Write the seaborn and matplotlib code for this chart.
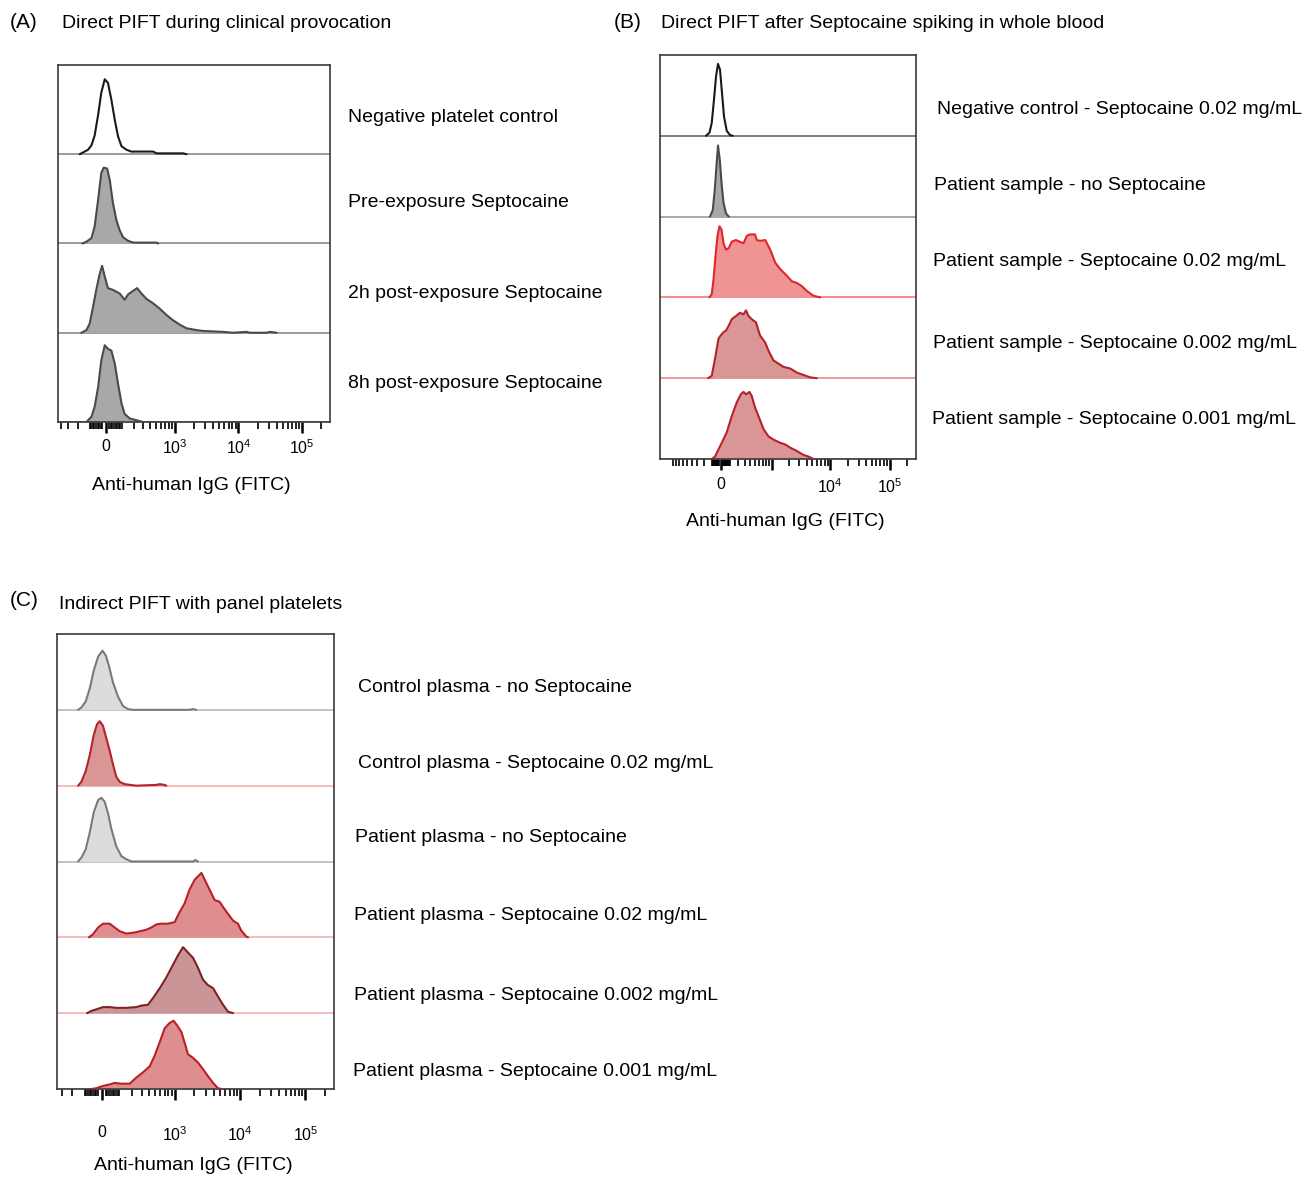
import numpy as np
import pandas as pd
import matplotlib
matplotlib.use("Agg")
import matplotlib.pyplot as plt
import seaborn as sns

sns.set_style("white")
plt.rcParams["font.family"] = ["Liberation Sans", "DejaVu Sans"]
plt.rcParams["text.color"] = "black"
plt.rcParams["xtick.color"] = "black"
plt.rcParams["mathtext.fontset"] = "custom"
plt.rcParams["mathtext.rm"] = "Liberation Sans"
plt.rcParams["mathtext.it"] = "Liberation Sans"

# ---- data (x in display channels 0-1024, y = fraction of row height) ----
# Panel A
a_labels = ["Negative platelet control", "Pre-exposure Septocaine",
            "2h post-exposure Septocaine", "8h post-exposure Septocaine"]
a1_x = [82, 94, 113, 126, 138, 151, 163, 176, 188, 201, 214, 226, 239, 258, 276, 358, 371, 471, 484]
a1_y = [0, 0.02, 0.05, 0.10, 0.21, 0.44, 0.69, 0.84, 0.80, 0.61, 0.38, 0.20, 0.09, 0.05, 0.03, 0.03, 0.01, 0.01, 0]
a2_x = [92, 107, 126, 138, 151, 163, 172, 185, 195, 207, 220, 232, 245, 264, 283, 371, 377]
a2_y = [0, 0.02, 0.06, 0.19, 0.49, 0.79, 0.85, 0.84, 0.71, 0.45, 0.26, 0.15, 0.07, 0.03, 0.01, 0.01, 0]
a3_x = [88, 107, 119, 132, 144, 157, 166, 176, 188, 207, 232, 251, 264, 283, 298, 314, 333, 358, 383,
        408, 433, 459, 484, 521, 547, 622, 660, 710, 722, 785, 798, 823]
a3_y = [0, 0.03, 0.10, 0.29, 0.48, 0.66, 0.75, 0.63, 0.50, 0.48, 0.44, 0.37, 0.43, 0.47, 0.50, 0.44, 0.38, 0.33, 0.27,
        0.20, 0.14, 0.09, 0.05, 0.03, 0.02, 0.01, 0, 0.01, 0, 0, 0.01, 0]
a4_x = [107, 126, 138, 151, 163, 176, 188, 201, 214, 226, 239, 251, 270, 295, 320]
a4_y = [0, 0.06, 0.17, 0.39, 0.69, 0.86, 0.82, 0.80, 0.65, 0.43, 0.21, 0.09, 0.04, 0.02, 0]
a_ticklabels = ["0", r"$10^{3}$", r"$10^{4}$", r"$10^{5}$"]

# Panel B
b_labels = ["Negative control - Septocaine 0.02 mg/mL", "Patient sample - no Septocaine",
            "Patient sample - Septocaine 0.02 mg/mL", "Patient sample - Septocaine 0.002 mg/mL",
            "Patient sample - Septocaine 0.001 mg/mL"]
b1_x = [184, 198, 207, 216, 224, 232, 240, 248, 256, 267, 280, 291]
b1_y = [0, 0.04, 0.16, 0.45, 0.73, 0.89, 0.82, 0.53, 0.24, 0.06, 0.01, 0]
b2_x = [200, 211, 219, 226, 232, 239, 246, 254, 264, 275]
b2_y = [0, 0.08, 0.33, 0.63, 0.88, 0.71, 0.42, 0.17, 0.04, 0]
b3_x = [198, 207, 214, 222, 230, 238, 246, 254, 264, 275, 287, 304, 318, 334, 347, 360, 380, 387, 400,
        421, 441, 461, 481, 507, 527, 547, 567, 587, 614, 641]
b3_y = [0, 0.04, 0.22, 0.51, 0.76, 0.88, 0.84, 0.67, 0.59, 0.61, 0.69, 0.71, 0.69, 0.67, 0.76, 0.78, 0.78, 0.71, 0.70,
        0.71, 0.59, 0.43, 0.35, 0.27, 0.20, 0.18, 0.14, 0.08, 0.02, 0]
b4_x = [193, 207, 220, 234, 243, 254, 264, 275, 287, 304, 320, 334, 344, 354, 367, 384, 400, 421, 434,
        454, 474, 494, 521, 547, 574, 601, 627]
b4_y = [0, 0.03, 0.24, 0.49, 0.53, 0.57, 0.59, 0.65, 0.73, 0.77, 0.81, 0.79, 0.84, 0.77, 0.73, 0.69, 0.53, 0.44, 0.34,
        0.22, 0.18, 0.14, 0.12, 0.07, 0.04, 0.01, 0]
b5_x = [207, 220, 234, 247, 267, 287, 307, 323, 334, 344, 358, 367, 380, 394, 414, 434, 454, 481, 501,
        521, 547, 574, 594, 614]
b5_y = [0, 0.03, 0.12, 0.20, 0.33, 0.53, 0.70, 0.80, 0.83, 0.80, 0.83, 0.78, 0.64, 0.53, 0.37, 0.28, 0.24, 0.20, 0.18,
        0.14, 0.10, 0.05, 0.03, 0]
b_ticklabels = ["0", "", r"$10^{4}$", r"$10^{5}$"]

# Panel C
c_labels = ["Control plasma - no Septocaine", "Control plasma - Septocaine 0.02 mg/mL",
            "Patient plasma - no Septocaine", "Patient plasma - Septocaine 0.02 mg/mL",
            "Patient plasma - Septocaine 0.002 mg/mL", "Patient plasma - Septocaine 0.001 mg/mL"]
c1_x = [78, 90, 106, 121, 136, 152, 168, 180, 192, 207, 226, 244, 262, 281, 490, 503, 515]
c1_y = [0, 0.03, 0.11, 0.28, 0.52, 0.70, 0.78, 0.72, 0.58, 0.36, 0.17, 0.05, 0.01, 0, 0, 0.01, 0]
c2_x = [78, 90, 106, 121, 136, 148, 158, 170, 182, 195, 207, 219, 232, 250, 293, 367, 380, 398, 404]
c2_y = [0, 0.05, 0.19, 0.40, 0.67, 0.81, 0.85, 0.79, 0.63, 0.46, 0.28, 0.12, 0.05, 0.02, 0, 0.01, 0.02, 0.01, 0]
c3_x = [78, 90, 106, 121, 136, 152, 164, 176, 189, 201, 219, 238, 256, 275, 505, 511, 521]
c3_y = [0, 0.05, 0.16, 0.38, 0.65, 0.81, 0.84, 0.79, 0.63, 0.43, 0.20, 0.07, 0.03, 0, 0, 0.02, 0]
c4_x = [118, 133, 152, 170, 195, 213, 232, 256, 281, 306, 330, 349, 367, 386, 410, 435, 453, 472, 490,
        509, 534, 546, 564, 583, 601, 614, 632, 651, 669, 681, 700, 706]
c4_y = [0, 0.04, 0.13, 0.18, 0.18, 0.13, 0.08, 0.05, 0.06, 0.08, 0.10, 0.13, 0.17, 0.18, 0.18, 0.20, 0.33, 0.45, 0.63,
        0.76, 0.85, 0.76, 0.63, 0.49, 0.47, 0.40, 0.31, 0.22, 0.18, 0.09, 0.01, 0]
c5_x = [111, 127, 145, 170, 195, 219, 256, 293, 312, 336, 355, 380, 404, 429, 447, 466, 484, 503, 521,
        540, 558, 577, 595, 614, 632, 651]
c5_y = [0, 0.03, 0.05, 0.08, 0.08, 0.07, 0.07, 0.08, 0.10, 0.11, 0.20, 0.33, 0.47, 0.64, 0.76, 0.87, 0.80, 0.73, 0.60,
        0.44, 0.37, 0.33, 0.22, 0.11, 0.02, 0]
c6_x = [127, 145, 170, 195, 213, 238, 269, 293, 318, 343, 361, 380, 398, 416, 431, 444, 460, 472, 484,
        503, 521, 540, 558, 577, 595, 608]
c6_y = [0, 0.01, 0.04, 0.06, 0.08, 0.07, 0.07, 0.15, 0.22, 0.30, 0.44, 0.62, 0.80, 0.87, 0.90, 0.84, 0.75, 0.61, 0.46,
        0.41, 0.35, 0.26, 0.17, 0.08, 0.01, 0]
c_ticklabels = ["0", r"$10^{3}$", r"$10^{4}$", r"$10^{5}$"]

# ---- styles ----
GRAY_FILL, GRAY_LINE = "#a8a8a8", "#4a4a4a"
LIGHT_FILL, LIGHT_LINE = "#dcdcdc", "#7a7a7a"
RED_FILL, RED_LINE = "#ef9393", "#e0262b"
ROSE_FILL, ROSE_LINE = "#da9595", "#b4222a"
MAUVE_FILL, MAUVE_LINE = "#c99597", "#7e2227"
PINK_FILL, PINK_LINE = "#df8e90", "#b81f26"

panel_a = [(a1_x, a1_y, None, "#1a1a1a", "#8a8a8a"),
           (a2_x, a2_y, GRAY_FILL, GRAY_LINE, "#8a8a8a"),
           (a3_x, a3_y, GRAY_FILL, GRAY_LINE, "#8a8a8a"),
           (a4_x, a4_y, GRAY_FILL, GRAY_LINE, "#8a8a8a")]
panel_b = [(b1_x, b1_y, None, "#1a1a1a", "#6a6a6a"),
           (b2_x, b2_y, GRAY_FILL, GRAY_LINE, "#9a9a9a"),
           (b3_x, b3_y, RED_FILL, RED_LINE, "#f07a7a"),
           (b4_x, b4_y, ROSE_FILL, ROSE_LINE, "#ea8a8a"),
           (b5_x, b5_y, ROSE_FILL, ROSE_LINE, "#ea8a8a")]
panel_c = [(c1_x, c1_y, LIGHT_FILL, LIGHT_LINE, "#b8b8b8"),
           (c2_x, c2_y, ROSE_FILL, ROSE_LINE, "#f2b0b0"),
           (c3_x, c3_y, LIGHT_FILL, LIGHT_LINE, "#b8b8b8"),
           (c4_x, c4_y, PINK_FILL, PINK_LINE, "#f2b0b0"),
           (c5_x, c5_y, MAUVE_FILL, MAUVE_LINE, "#f2b0b0"),
           (c6_x, c6_y, PINK_FILL, PINK_LINE, "#f2b0b0")]


def to_ch(v, zero, d, w):
    return zero + d * np.arcsinh(np.asarray(v, float) / (2 * w)) / np.log(10)


def draw_panel(ax, rows, scale, ticklabels, pad):
    n = len(rows)
    for i, (xs, ys, fill, line, base) in enumerate(rows):
        b = n - 1 - i
        df = pd.DataFrame({"x": xs, "y": np.array(ys) + b})
        ax.axhline(b, color=base, lw=1.2, zorder=1)
        if fill is not None:
            ax.fill_between(df["x"], b, df["y"], color=fill, lw=0, zorder=2)
        sns.lineplot(data=df, x="x", y="y", ax=ax, color=line, lw=1.5,
                     sort=False, estimator=None, zorder=3)
    ax.set_xlim(0, 1024)
    ax.set_ylim(0, n)
    ax.set_yticks([])
    ax.set_xlabel("")
    ax.set_ylabel("")
    for s in ax.spines.values():
        s.set_color("#3a3a3a")
        s.set_linewidth(1.2)
    zero, d, w = scale
    majors = [0, 1e3, 1e4, 1e5]
    ax.set_xticks(to_ch(majors, zero, d, w))
    ax.set_xticklabels(ticklabels, fontsize=11.5)
    minors = [m * 10 ** k for k in range(2, 5) for m in range(1, 10)] + [2e5]
    minors += [-m * 100 for m in range(1, 10)] + [s * m * 10 for s in (-1, 1) for m in range(2, 10)]
    mpos = to_ch(minors, zero, d, w)
    ax.set_xticks(mpos[(mpos > 5) & (mpos < 1019)], minor=True)
    ax.tick_params(axis="x", which="major", direction="out", length=8, width=1.8,
                   color="black", pad=pad, bottom=True)
    ax.tick_params(axis="x", which="minor", direction="out", length=5, width=1.2,
                   color="black", bottom=True)


fig = plt.figure(figsize=(13.07, 11.77), dpi=100)
W, H = 1307.0, 1177.0


def add_axes(x0, y0, x1, y1):
    return fig.add_axes([x0 / W, 1 - y1 / H, (x1 - x0) / W, (y1 - y0) / H])


ax_a = add_axes(58, 65, 330, 422)
ax_b = add_axes(660, 55, 916, 459)
ax_c = add_axes(57, 634, 334, 1089)

draw_panel(ax_a, panel_a, (180, 240, 83), a_ticklabels, 4)
draw_panel(ax_b, panel_b, (244, 237, 143), b_ticklabels, 5)
draw_panel(ax_c, panel_c, (166, 242, 78), c_ticklabels, 18)

FS = 14
# panel letters and titles
fig.text(10 / W, 1 - 23 / H, "(A)", fontsize=15, va="center")
fig.text(62 / W, 1 - 24 / H, "Direct PIFT during clinical provocation", fontsize=FS, va="center")
fig.text(614 / W, 1 - 23 / H, "(B)", fontsize=15, va="center")
fig.text(661 / W, 1 - 24 / H, "Direct PIFT after Septocaine spiking in whole blood", fontsize=FS, va="center")
fig.text(10 / W, 1 - 601 / H, "(C)", fontsize=15, va="center")
fig.text(59 / W, 1 - 605 / H, "Indirect PIFT with panel platelets", fontsize=FS, va="center")

# row labels
for lab, y in zip(a_labels, [117, 203, 293, 383]):
    fig.text(348 / W, 1 - y / H, lab, fontsize=FS, va="center")
for lab, x, y in zip(b_labels, [937, 934, 933, 933, 932], [110, 185, 262, 344, 420]):
    fig.text(x / W, 1 - y / H, lab, fontsize=FS, va="center")
for lab, x, y in zip(c_labels, [358, 358, 355, 354, 354, 353], [687, 763, 838, 915, 996, 1072]):
    fig.text(x / W, 1 - y / H, lab, fontsize=FS, va="center")

# axis labels
fig.text(191 / W, 1 - 485 / H, "Anti-human IgG (FITC)", fontsize=FS, ha="center", va="center")
fig.text(785 / W, 1 - 521 / H, "Anti-human IgG (FITC)", fontsize=FS, ha="center", va="center")
fig.text(193 / W, 1 - 1165 / H, "Anti-human IgG (FITC)", fontsize=FS, ha="center", va="center")

fig.savefig("out.png", dpi=100)
